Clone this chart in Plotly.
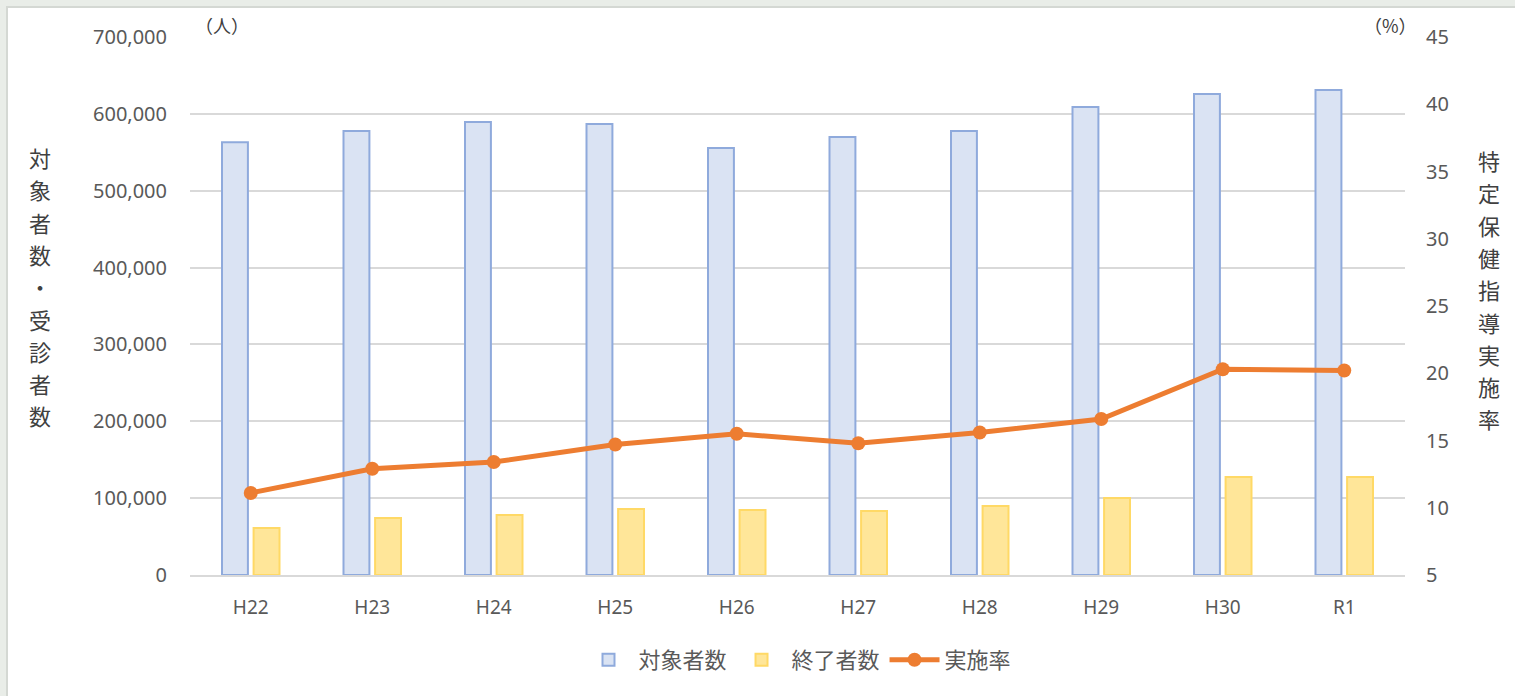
import plotly.graph_objects as go

categories = ["H22", "H23", "H24", "H25", "H26", "H27", "H28", "H29", "H30", "R1"]
target_counts = [563000, 577700, 589400, 586800, 555600, 569900, 577700, 608900, 625800, 631000]
completed_counts = [61200, 74200, 78100, 85900, 84600, 83300, 89800, 100200, 127500, 127500]
rates = [11.1, 12.9, 13.4, 14.7, 15.5, 14.8, 15.6, 16.6, 20.3, 20.2]

left_title = "対象者数・受診者数"
right_title = "特定保健指導実施率"

FONT = "Noto Sans CJK JP"
TICKFONT = "Noto Sans"
GRAY = "#595959"

W, H = 1515, 696
L, R, T, B = 190, 110, 37, 121
PW, PH = W - L - R, H - T - B

def px_x(x):
    return (x - L) / PW

def px_y(y):
    return (H - B - y) / PH

fig = go.Figure()
fig.add_trace(go.Bar(
    x=categories, y=target_counts, name="対象者数",
    marker=dict(color="#dae3f3", line=dict(color="#8faadc", width=2)),
))
fig.add_trace(go.Bar(
    x=categories, y=completed_counts, name="終了者数",
    marker=dict(color="#ffe699", line=dict(color="#ffd966", width=2)),
))
fig.add_trace(go.Scatter(
    x=categories, y=rates, name="実施率", yaxis="y2",
    mode="lines+markers",
    line=dict(color="#ed7d31", width=5),
    marker=dict(color="#ed7d31", size=14),
))

annotations = []
for i, ch in enumerate(left_title):
    annotations.append(dict(
        text=ch, xref="paper", yref="paper", x=px_x(40), y=px_y(157 + i * 32.3),
        showarrow=False, xanchor="center", yanchor="middle",
        font=dict(family=FONT, size=22, color="#404040"),
    ))
for i, ch in enumerate(right_title):
    annotations.append(dict(
        text=ch, xref="paper", yref="paper", x=px_x(1489), y=px_y(160 + i * 32.3),
        showarrow=False, xanchor="center", yanchor="middle",
        font=dict(family=FONT, size=22, color="#404040"),
    ))
annotations.append(dict(
    text="（人）", xref="paper", yref="paper", x=px_x(193), y=px_y(25),
    showarrow=False, xanchor="left", yanchor="middle",
    font=dict(family=FONT, size=18, color="#404040"),
))
annotations.append(dict(
    text="（%）", xref="paper", yref="paper", x=px_x(1419), y=px_y(25),
    showarrow=False, xanchor="right", yanchor="middle",
    font=dict(family=FONT, size=18, color="#404040"),
))

fig.update_layout(
    width=W, height=H,
    margin=dict(l=L, r=R, t=T, b=B, autoexpand=False),
    paper_bgcolor="#e9ede8",
    plot_bgcolor="rgba(0,0,0,0)",
    font=dict(family=FONT, size=16, color=GRAY),
    barmode="group",
    bargap=0.48,
    bargroupgap=0.18,
    xaxis=dict(
        range=[-0.5, 9.5], automargin=False,
        showgrid=False, showline=True, linecolor="#d9d9d9", linewidth=2,
        ticks="", tickfont=dict(family=TICKFONT, size=19, color=GRAY), ticklabelstandoff=14,
    ),
    yaxis=dict(
        range=[0, 700000], dtick=100000, tickformat=",", automargin=False,
        showgrid=True, gridcolor="#d9d9d9", gridwidth=2,
        zeroline=False, showline=False, ticks="",
        tickfont=dict(family=TICKFONT, size=20, color=GRAY), ticklabelstandoff=22,
    ),
    yaxis2=dict(
        range=[5, 45], dtick=5, overlaying="y", side="right", automargin=False,
        showgrid=False, zeroline=False, showline=False, ticks="",
        tickfont=dict(family=TICKFONT, size=20, color=GRAY), ticklabelstandoff=20,
    ),
    legend=dict(
        orientation="h", x=0.5, xanchor="center", y=px_y(660), yanchor="middle",
        font=dict(family=FONT, size=22, color=GRAY), itemwidth=50,
        bgcolor="rgba(0,0,0,0)", traceorder="normal",
    ),
    annotations=annotations,
    shapes=[dict(
        type="rect", xref="paper", yref="paper", layer="below",
        x0=px_x(7), x1=px_x(1518), y0=px_y(700), y1=px_y(7),
        fillcolor="white", line=dict(color="#d4d8d3", width=2),
    )],
)

fig.write_html(
    "out.html",
    config={"displayModeBar": False},
    post_script="document.body.style.margin='0';document.body.style.overflow='hidden';document.body.style.background='#e9ede8';",
)
